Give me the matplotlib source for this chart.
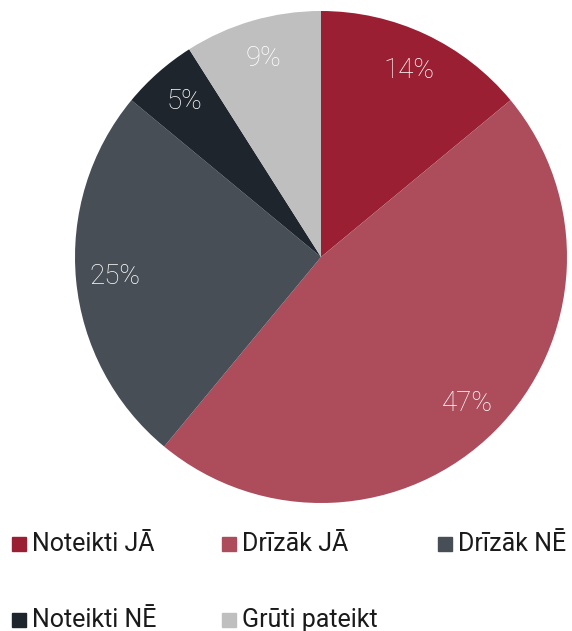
import matplotlib
matplotlib.use("Agg")
import matplotlib.pyplot as plt
from matplotlib.patches import Rectangle

# data
labels = ["Noteikti JĀ", "Drīzāk JĀ", "Drīzāk NĒ", "Noteikti NĒ", "Grūti pateikt"]
values = [14, 47, 25, 5, 9]
colors = ["#9A1F33", "#AD4D5C", "#474E55", "#1E252D", "#BFBFBF"]

plt.rcParams['font.family'] = ['Roboto', 'DejaVu Sans']

W, H = 572, 631
fig = plt.figure(figsize=(W / 100, H / 100), dpi=100)

# pie area: centre (321, 257) px, radius 246 px
cx, cy, r = 321, 257, 246
ax = fig.add_axes([(cx - r) / W, (H - cy - r) / H, 2 * r / W, 2 * r / H])
wedges, texts, autotexts = ax.pie(values, colors=colors, startangle=90, counterclock=False,
                                  autopct=lambda p: f"{p:.0f}%", pctdistance=0.84,
                                  wedgeprops=dict(linewidth=0),
                                  textprops=dict(color="white", fontsize=20, fontweight="light"))
ax.set_xlim(-1, 1)
ax.set_ylim(-1, 1)
ax.set_aspect("equal")

# legend, laid out in a 3-column grid
col_x = [12, 222, 438]
row_y = [544, 620]
for i, (lab, col) in enumerate(zip(labels, colors)):
    row, c = divmod(i, 3)
    x0 = col_x[c]
    yc = row_y[row]
    fig.patches.append(Rectangle((x0 / W, (H - yc - 7) / H), 14 / W, 14 / H,
                                 transform=fig.transFigure, color=col, figure=fig))
    fig.text((x0 + 20) / W, (H - yc) / H, lab, fontsize=18, color="#1a1a1a",
             va="center", ha="left")

fig.savefig("out.png", dpi=100)
